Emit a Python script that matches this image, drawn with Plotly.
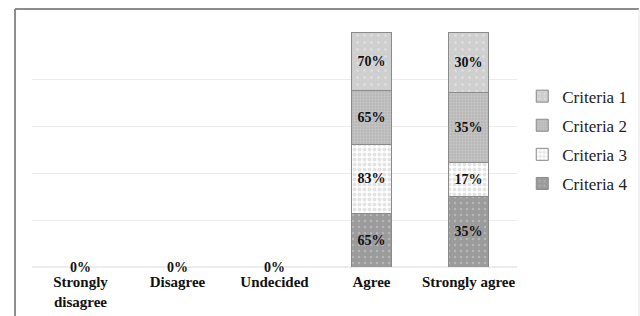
import plotly.graph_objects as go

categories = ["Strongly disagree", "Disagree", "Undecided", "Agree", "Strongly agree"]
tick_labels = ["Strongly<br>disagree", "Disagree", "Undecided", "Agree", "Strongly agree"]
criteria_names = ["Criteria 4", "Criteria 3", "Criteria 2", "Criteria 1"]  # bottom to top
criteria_4 = [0, 0, 0, 65, 35]
criteria_3 = [0, 0, 0, 83, 17]
criteria_2 = [0, 0, 0, 65, 35]
criteria_1 = [0, 0, 0, 70, 30]
series = [criteria_4, criteria_3, criteria_2, criteria_1]

styles = {
    "Criteria 4": dict(color="#9b9b9b", fg="#d0d0d0", size=6, solidity=0.14),
    "Criteria 3": dict(color="#ffffff", fg="#c8c8c8", size=5, solidity=0.5),
    "Criteria 2": dict(color="#b3b3b3", fg="#d9d9d9", size=3, solidity=0.5),
    "Criteria 1": dict(color="#cfcfcf", fg="#f2f2f2", size=7, solidity=0.1),
}

SERIF = "Liberation Serif"
fig = go.Figure()
for rank, (name, vals) in enumerate(zip(criteria_names, series)):
    st = styles[name]
    fig.add_trace(go.Bar(
        x=categories, y=vals, name=name, legendgroup=name,
        legendrank=100 - rank,
        text=[f"{v}%" if v else "" for v in vals],
        textposition="inside", insidetextanchor="middle", textangle=0,
        constraintext="none",
        textfont=dict(family=SERIF, size=14, color="#111111", weight="bold"),
        marker=dict(color=st["color"], line=dict(color="#8a8a8a", width=1),
                    pattern=dict(shape=".", fgcolor=st["fg"], bgcolor=st["color"],
                                 size=st["size"], solidity=st["solidity"], fillmode="overlay")),
        hoverinfo="skip",
    ))

totals = [sum(s[i] for s in series) for i in range(len(categories))]
for cat, tot in zip(categories, totals):
    if tot == 0:
        fig.add_annotation(x=cat, y=0, text=f"{tot}%", showarrow=False, yanchor="middle",
                           font=dict(family=SERIF, size=14, color="#111111", weight="bold"))

# chart border
border = "#8c8c8c"
fig.add_shape(type="line", xref="paper", yref="paper", x0=-0.035, x1=-0.035, y0=-0.3, y1=1.098,
              line=dict(color=border, width=2))
fig.add_shape(type="line", xref="paper", yref="paper", x0=-0.035, x1=1.2515, y0=1.098, y1=1.098,
              line=dict(color=border, width=2))
fig.add_shape(type="line", xref="paper", yref="paper", x0=1.2515, x1=1.2515, y0=-0.3, y1=1.098,
              line=dict(color="#e4e4e4", width=1))

fig.update_layout(
    width=640, height=316,
    margin=dict(l=32, r=123, t=32, b=49),
    barmode="stack", barnorm="percent", bargap=0.59,
    plot_bgcolor="white", paper_bgcolor="white",
    showlegend=True,
    legend=dict(xref="container", x=0.816, y=0.54, xanchor="left", yanchor="middle",
                traceorder="grouped", tracegroupgap=4,
                font=dict(family=SERIF, size=17, color="#222222"),
                itemwidth=30),
    xaxis=dict(tickvals=categories, ticktext=tick_labels, showline=False, ticks="",
               tickfont=dict(family=SERIF, size=15, color="#111111", weight="bold"),
               ticklabelstandoff=4, showgrid=False, automargin=False),
    yaxis=dict(range=[0, 100], dtick=20, showticklabels=False, showgrid=True,
               gridcolor="#ececec", gridwidth=1, zeroline=True, zerolinecolor="#ececec",
               showline=False, ticks="", automargin=False),
)

fig.write_html("out.html", config={"displayModeBar": False},
               post_script="document.body.style.margin='0';document.body.style.padding='0';")
